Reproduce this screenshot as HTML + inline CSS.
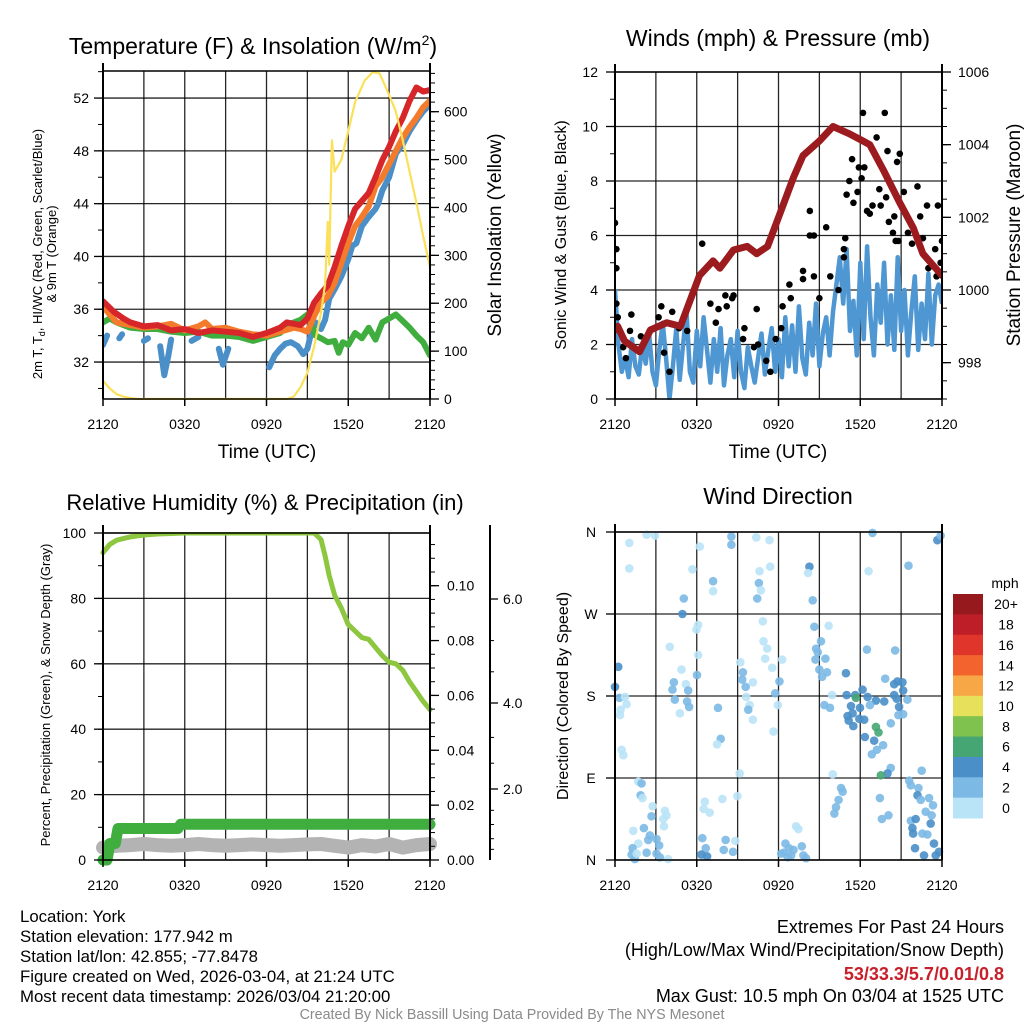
<!DOCTYPE html>
<html><head><meta charset="utf-8"><style>
html,body{margin:0;padding:0;background:#fff;}
svg{display:block;font-family:"Liberation Sans",Arial,sans-serif;}
</style></head><body>
<svg id="chart" width="1024" height="1024" viewBox="0 0 1024 1024" xmlns="http://www.w3.org/2000/svg">
<rect x="0" y="0" width="1024" height="1024" fill="#fff"/>
</svg>
<script>
// ---------- DATA ----------
const xTickLabels = ["2120","0320","0920","1520","2120"];
// Panel 1: temperature (F) & insolation
const redT = [0,0.3,0.8,1.5,2,3,4,5,6,7,8,9,10,11,12,12.5,13,13.5,14,14.5,15,15.5,16,16.5,17,17.5,18,18.5,19,19.5,20,20.5,21,21.5,22,22.5,23,23.5,24];
const redV = [36.6,36.3,35.8,35.3,35.0,34.7,34.8,34.4,34.5,34.2,34.4,34.3,34.2,33.9,34.2,34.4,34.6,35.0,34.9,34.8,35.3,36.5,37.2,37.8,39.2,40.8,42.3,43.6,44.2,44.8,46.0,47.3,48.3,49.5,50.5,51.8,52.8,52.5,52.6];
const orangeT = [0,0.5,1,2,3,4,5,6,7,7.5,8,9,10,11,12,13,14,14.5,15,15.5,16,16.5,17,17.5,18,18.5,19,19.5,20,20.5,21,21.5,22,22.5,23,23.5,24];
const orangeV = [36.2,35.6,35.0,34.8,34.6,34.7,34.9,34.4,34.7,35.0,34.5,34.6,34.3,34.1,34.0,34.3,34.6,34.5,34.3,35.5,36.5,37.0,38.0,39.5,41.0,42.3,43.0,43.8,45.3,46.0,47.0,48.0,49.0,49.8,50.5,51.3,51.8];
const blueT = [0,0.3,0.5,1.2,1.4,1.6,3.0,3.3,3.5,4.2,4.5,4.8,5.0,5.3,6.5,7,7.5,8.5,8.8,9.2,9.5,10.5,11,12.2,12.6,13,13.4,13.8,14.3,14.7,15,15.3,15.6,16,16.3,16.6,17,17.5,18,18.3,18.6,19,19.5,20,20.2,20.5,21,21.5,22,22.5,23,23.5,24];
const blueV = [33.3,34.0,null,33.8,34.1,null,33.6,33.8,null,33.2,31.0,32.5,33.7,null,33.6,33.9,null,33.0,31.8,33.0,null,33.8,null,31.6,32.5,33.0,33.4,33.5,33.2,32.6,33.0,34.3,35.0,34.5,35.2,36.8,37.5,38.5,39.8,40.8,41.0,42.3,43.0,43.6,44.0,45.0,46.0,47.8,48.5,49.5,50.3,51.0,51.5];
const greenT = [0,0.5,1,1.5,2,3,4,5,6,7,8,9,10,11,12,13,13.5,14,14.5,15,15.3,15.6,16,16.5,17,17.3,17.6,18,18.5,19,19.5,20,20.5,21,21.5,22,22.5,23,23.5,24];
const greenV = [35.0,35.3,35.0,34.8,34.6,34.5,34.5,34.3,34.2,34.3,34.0,34.0,33.9,33.6,33.9,34.2,34.7,35.0,35.2,35.6,34.8,34.0,33.8,33.5,33.6,32.7,33.5,33.3,34.2,33.8,34.6,33.7,35.0,35.3,35.6,35.1,34.6,34.0,33.5,32.5];
const solarT = [0,0.5,1,1.5,2,2.5,13.5,14,14.5,15,15.5,16,16.3,16.5,16.6,16.8,17.0,17.5,18,18.5,19.2,19.8,20.3,21,21.5,22,22.5,23,23.5,24];
const solarV = [38,22,10,5,2,0,0,5,25,55,110,180,240,370,280,540,475,500,560,620,665,683,680,635,600,540,475,410,340,275];
const tempTicks = [32,36,40,44,48,52];
const solarTicks = [0,100,200,300,400,500,600];
// Panel 2: winds & pressure
const sonicV = [4.0,2.0,1.0,1.5,0.8,2.2,1.2,0.9,2.0,1.3,2.4,1.0,0.5,1.8,2.8,1.5,
0.0,1.2,2.6,0.7,2.0,3.2,1.0,0.6,2.5,1.2,3.0,1.8,0.6,2.2,1.0,2.6,
0.5,1.6,2.2,0.8,2.5,1.0,0.4,1.9,1.2,0.6,1.5,2.4,0.9,1.8,2.6,1.0,
2.2,0.8,3.0,1.2,2.7,1.0,3.4,1.5,0.9,2.8,1.6,3.5,1.2,2.4,3.0,1.6,
3.2,4.2,5.2,3.5,5.5,2.5,3.6,1.6,5.0,2.2,5.6,3.0,1.6,4.2,2.8,5.0,
2.0,3.8,1.8,5.2,2.5,4.0,1.6,3.2,4.5,1.8,3.5,2.2,4.6,2.0,3.8,4.2,3.5];
const sonicStepHours = 0.25;
const gustT = [0,0.1,0.1,0.1,0.2,0.6,0.8,1.1,1.2,1.9,3.2,3.4,4.2,4.0,3.6,4.7,5.3,6.4,7.0,7.6,8.2,8.6,8.7,8.1,7.4,9.5,9.4,10.4,10.2,11.1,11.4,10.5,11.8,12.2,12.3,12.8,12.9,13.8,13.8,14.3,14.3,14.6,14.6,15.0,15.5,15.8,16.4,16.8,16.8,16.9,17.0,17.2,17.4,17.5,17.8,17.9,18.1,18.2,18.3,18.5,18.7,18.9,19.2,19.4,19.5,19.8,19.9,20.0,20.1,20.4,20.5,20.6,20.7,20.8,20.9,21.2,21.5,21.8,22.2,22.4,22.6,22.9,23.0,23.5,23.7,23.6,24,23.9];
const gustV = [6.46,5.5,4.8,3.5,3.0,1.9,1.5,2.5,3.1,2.3,3.0,3.4,3.2,1.0,1.7,2.6,2.5,5.7,3.5,3.3,3.4,3.7,3.8,3.8,2.8,2.6,2.2,3.3,1.9,1.4,1.0,2.0,2.2,2.6,3.4,4.2,3.7,4.7,4.4,6.0,6.9,6.0,4.5,3.7,6.3,4.5,4.0,5.5,5.2,5.9,7.5,8.0,8.8,7.2,7.6,8.5,8.1,10.5,8.5,6.9,6.8,7.1,9.6,7.7,7.1,10.5,7.4,9.1,6.5,6.1,6.7,5.8,8.7,5.8,9.0,7.6,6.1,5.7,7.8,6.7,5.9,7.1,4.8,5.5,7.1,4.5,5.8,5.0];
const presT = [0,0.2,0.7,1.8,2.6,3.8,4.8,5.3,6.2,7.2,7.7,8.7,9.7,10.4,11.2,12.1,13.1,13.8,15.0,16.0,17.2,18.2,18.7,19.7,20.9,21.9,22.6,24.0];
const presV = [998.9,999.0,998.6,998.3,998.9,999.1,999.0,999.5,1000.4,1000.8,1000.6,1001.1,1001.2,1001.0,1001.2,1002.1,1003.1,1003.7,1004.1,1004.5,1004.3,1004.1,1004.0,1003.3,1002.4,1001.7,1001.0,1000.4];
const windTicks = [0,2,4,6,8,10,12];
const presTicks = [998,1000,1002,1004,1006];
// Panel 3: RH, precip, snow depth
const rhT = [0,0.5,1,2,3,4,6,13,15.5,16,16.3,16.6,17,17.5,18,18.5,19,19.5,20,20.5,21,21.5,22,22.5,23,23.5,24];
const rhV = [94,96.5,97.8,98.8,99.4,99.7,100,100,100,98,93,87,81,77,72,70,68,67.5,65,62.5,60.5,60,58,54.5,51.5,48.5,46];
const precipT = [0,0.3,0.5,0.9,1.1,5.5,5.7,24];
const precipV = [0,0,0.006,0.006,0.0115,0.0115,0.013,0.013];
const snowT = [0,1,2,3,4,5,6,7,8,9,10,11,12,13,14,15,16,17,18,19,20,21,22,23,24];
const snowV = [0.35,0.4,0.42,0.45,0.42,0.4,0.42,0.45,0.42,0.4,0.42,0.44,0.42,0.4,0.42,0.44,0.45,0.4,0.35,0.42,0.38,0.45,0.35,0.42,0.45];
const rhTicks = [0,20,40,60,80,100];
const precipTicks = ["0.00","0.02","0.04","0.06","0.08","0.10"];
const snowTicks = ["2.0","4.0","6.0"];
// Panel 4: wind direction
const dirT = [1.05,2.32,2.93,1.05,5.68,6.22,8.54,8.54,10.37,11.34,7.2,7.2,5.05,4.95,6.1,5.98,4.02,6.1,4.88,5.2,4.32,4.22,5.37,4.39,5.29,5.44,4.76,6.02,0.24,0,0.32,0.73,0.85,0.41,0.37,0.49,0.61,7.56,7.76,7.49,9.2,9.39,9.34,9.59,9.63,9.88,10.12,9.78,10.12,9.15,10.61,11.39,10.56,10.71,10.44,10.85,10.9,11.17,11.02,11.54,12.27,12.07,11.76,11.95,11.63,14.27,14.17,14.51,14.63,15.68,15.12,14.76,14.88,14.71,15.44,15.0,15.56,15.2,16.95,15.93,17.0,17.63,18.17,18.54,17.68,19.15,18.71,19.76,19.83,20.56,18.49,20.49,20.73,21.1,21.15,20.49,20.68,21.46,20.85,21.15,20.8,17.32,17.98,17.07,17.44,17.15,17.49,17.93,18.29,19.15,19.34,18.34,19.02,19.68,19.22,18.85,20.24,20.0,19.51,22.51,21.54,18.9,23.66,23.9,18.61,20.24,15.78,15.37,15.98,16.59,16.71,16.41,16.22,16.1,19.44,20.07,19.59,21.59,21.71,22.27,22.2,22.44,23.05,23.34,22.8,23.24,21.71,22.07,23.17,21.83,21.88,22.56,22.93,23.41,23.78,22.02,22.68,23.54,1.71,1.95,1.88,2.02,2.76,2.68,3.66,3.54,3.78,3.59,2.12,1.34,2.56,2.44,3.05,1.71,3.24,2.32,1.29,1.22,1.46,1.59,3.05,3.29,3.9,6.59,6.51,6.95,6.41,6.66,6.34,6.76,8.12,7.98,8.83,8.66,7.88,8.98,13.29,13.46,12.51,12.39,12.76,12.93,13.1,13.71,13.83,14.02,12.2,12.68];
const dirV = [348,357,356,320,319,344,355,346,354,351,306,295,287,270,258,253,234,225,209,193,195,187,186,176,174,168,161,203,212,190,178,179,171,165,159,121,115,167,133,127,217,206,198,190,179,170,195,165,154,95,317,322,304,296,287,262,240,232,221,211,220,196,183,170,141,322,315,285,256,257,240,232,228,220,221,209,206,201,205,181,181,181,187,179,178,175,170,174,199,230,231,193,196,195,186,181,177,176,168,160,159,169,167,158,161,153,147,155,154,146,140,135,131,126,121,116,101,95,93,98,323,359,351,356,317,150,167,170,94,79,75,66,58,51,68,49,45,87,82,79,71,66,68,60,53,49,43,45,40,35,29,29,28,18,9,13,5,5,86,84,71,68,59,48,54,45,49,37,35,32,27,22,23,18,16,8,13,6,1,7,7,3,1,64,56,52,24,13,6,4,22,11,21,9,67,70,37,34,18,8,13,5,11,15,5,2,7,3];
const dirSpeed = [1,1,1,1,1,1,3,3,1,1,3,1,3,5,1,1,1,1,1,1,3,3,3,3,3,3,1,3,5,5,3,1,1,1,1,1,1,3,3,1,1,3,3,3,1,1,1,3,1,1,1,1,3,1,3,1,1,1,1,1,1,3,3,1,1,5,1,3,3,1,3,3,3,3,3,3,3,3,5,1,5,5,5,5,7,5,3,5,3,3,3,5,5,5,5,5,5,3,5,3,3,5,5,5,5,5,5,5,5,7,7,5,5,3,3,3,3,5,7,3,3,3,5,3,1,3,3,3,1,3,3,3,3,3,3,3,3,3,3,3,5,3,3,3,3,3,3,5,5,5,5,3,3,5,5,5,5,5,1,3,3,1,1,3,1,1,1,1,3,1,3,3,3,1,3,3,3,3,3,1,3,3,1,1,1,1,3,3,5,5,3,3,1,3,1,1,1,1,3,3,3,3,3,3,3,3,3,3];
const dirTickLabels = ["N","E","S","W","N"];
const speedBins = ["0","2","4","6","8","10","12","14","16","18","20+"];
const speedColors = ["#b9e3f7","#7cb9e5","#4a8fc8","#46a673","#7fc24e","#e7e05b","#f8a747","#f2632d","#e0352a","#bd1e28","#961a1d"];

// ---------- HELPERS ----------
const NS = "http://www.w3.org/2000/svg";
const svg = document.getElementById("chart");
function mk(tag, attrs, parent){
  const e = document.createElementNS(NS, tag);
  for (const k in attrs) e.setAttribute(k, attrs[k]);
  (parent||svg).appendChild(e);
  return e;
}
function txt(s, x, y, size, anchor, parent, extra){
  const e = mk("text", Object.assign({x:x, y:y, "font-size":size, "text-anchor":anchor||"middle", fill:"#000"}, extra||{}), parent);
  e.textContent = s;
  return e;
}
function pathFrom(ts, vs, xf, yf){
  let d = "", pen = false;
  for (let i=0;i<ts.length;i++){
    if (vs[i]===null){ pen=false; continue; }
    d += (pen?"L":"M") + xf(ts[i]).toFixed(1) + "," + yf(vs[i]).toFixed(1);
    pen = true;
  }
  return d;
}
function grp(name){
  const g = mk("g", {});
  
  
  return g;
}

// ---------- PANEL GEOMETRY ----------
function timeX(x0, x1){ return t => x0 + t/24*(x1-x0); }
function frame(g, x0, y0, x1, y1, vgrid, hgridYs){
  const gg = mk("g", {}, g);
  
  
  for (let i=1;i<vgrid;i++){
    const x = x0 + i*(x1-x0)/vgrid;
    mk("line", {x1:x, y1:y0, x2:x, y2:y1, stroke:"#000", "stroke-width":1.3, "stroke-opacity":0.85}, gg);
  }
  hgridYs.forEach(y => mk("line", {x1:x0, y1:y, x2:x1, y2:y, stroke:"#000", "stroke-width":1.3, "stroke-opacity":0.85}, gg));
}
function borders(g, x0, y0, x1, y1){
  mk("line", {x1:x0, y1:y0-8, x2:x0, y2:y1, stroke:"#000", "stroke-width":2}, g);
  mk("line", {x1:x1, y1:y0-8, x2:x1, y2:y1, stroke:"#000", "stroke-width":2}, g);
  mk("line", {x1:x0, y1:y0, x2:x1, y2:y0, stroke:"#000", "stroke-width":1.5}, g);
  mk("line", {x1:x0, y1:y1, x2:x1, y2:y1, stroke:"#000", "stroke-width":1.5}, g);
}
function xAxis(g, x0, x1, y1){
  const ax = mk("g", {}, g);
  
  
  xTickLabels.forEach((l,i) => {
    const x = x0 + i*(x1-x0)/4;
    mk("line", {x1:x, y1:y1, x2:x, y2:y1+7, stroke:"#000", "stroke-width":1.5}, ax);
    const t = txt(l, x, y1+30, 14, "middle", ax);
    
    
  });
}
function yTicks(g, ax, vals, yf, side, majorLen, minorVals, labelFmt, labelX, anchor){
  vals.forEach(v => {
    const y = yf(v);
    mk("line", {x1:ax, y1:y, x2:ax+side*majorLen, y2:y, stroke:"#000", "stroke-width":1.3}, g);
    const t = txt(labelFmt(v), labelX, y+5, 14, anchor, g);
    
    
  });
  minorVals.forEach(v => {
    const y = yf(v);
    mk("line", {x1:ax, y1:y, x2:ax+side*5, y2:y, stroke:"#000", "stroke-width":1}, g);
  });
}
function range(a,b,s){ const r=[]; for(let v=a; v<=b+1e-9; v+=s) r.push(+v.toFixed(4)); return r; }
function clip(id, x0,y0,x1,y1){
  const defs = mk("defs", {});
  const cp = mk("clipPath", {id:id}, defs);
  mk("rect", {x:x0, y:y0-1, width:x1-x0, height:y1-y0+2}, cp);
}

// ================= PANEL 1 =================
(function(){
  const x0=103,x1=430,y0=71,y1=399;
  const g = grp("temperature-panel");
  const X = timeX(x0,x1);
  const tY = v => y1 - (v-29.2)/(54.05-29.2)*(y1-y0);
  const iY = v => y1 - v/685*(y1-y0);
  clip("c1",x0,y0,x1,y1);
  frame(g,x0,y0,x1,y1,8,tempTicks.map(tY));
  const s = mk("g",{"clip-path":"url(#c1)"},g);
  const lines = [[blueT,blueV,"#4a8fc8","dewpoint-line"],[greenT,greenV,"#3fae3f","heat-index-line"],[orangeT,orangeV,"#f47b2c","temp-9m-line"],[redT,redV,"#d7262a","temp-2m-line"]];
  lines.forEach(L => {
    const p = mk("path",{d:pathFrom(L[0],L[1],X,tY),fill:"none",stroke:L[2],"stroke-width":6,"stroke-linejoin":"round","stroke-linecap":"round"},s);
    
    
  });
  const sp = mk("path",{d:pathFrom(solarT,solarV,X,iY),fill:"none",stroke:"#fbe05a","stroke-width":2.2,"stroke-linejoin":"round"},s);
  
  
  borders(g,x0,y0,x1,y1);
  yTicks(g,x0,tempTicks,tY,-1,9,range(30,54,2),v=>String(v),89,"end");
  yTicks(g,x1,solarTicks,iY,1,9,range(0,680,20),v=>String(v),444,"start");
  xAxis(g,x0,x1,y1);
  const t = txt("Temperature (F) & Insolation (W/m", 253, 54, 23, "middle", g);
  const sup = mk("tspan",{dy:-9,"font-size":14},t); sup.textContent="2";
  const cl = mk("tspan",{dy:9},t); cl.textContent=")";
  
  
  const xt = txt("Time (UTC)", 267, 458, 19, "middle", g);
  
  
  const rt = txt("Solar Insolation (Yellow)", 0, 0, 19, "middle", g, {transform:"translate(501,235) rotate(-90)"});
  
  
  const lt = txt("2m T, T", 0, 0, 13, "middle", g, {transform:"translate(42,254) rotate(-90)"});
  const sb = mk("tspan",{dy:3,"font-size":9},lt); sb.textContent="d";
  const rest = mk("tspan",{dy:-3},lt); rest.textContent=", HI/WC (Red, Green, Scarlet/Blue)";
  
  
  const lt2 = txt("& 9m T (Orange)", 0, 0, 13, "middle", g, {transform:"translate(56,254) rotate(-90)"});
  
  
})();

// ================= PANEL 2 =================
(function(){
  const x0=615,x1=942,y0=72,y1=399;
  const g = grp("winds-pressure-panel");
  const X = timeX(x0,x1);
  const wY = v => y1 - v/12*(y1-y0);
  const pY = v => y1 - (v-997)/9*(y1-y0);
  clip("c2",x0,y0,x1,y1);
  frame(g,x0,y0,x1,y1,8,windTicks.map(wY));
  const s = mk("g",{"clip-path":"url(#c2)"},g);
  const sonicT = sonicV.map((v,i)=>i*sonicStepHours);
  const sp = mk("path",{d:pathFrom(sonicT,sonicV,X,wY),fill:"none",stroke:"#4f97d2","stroke-width":4.5,"stroke-linejoin":"round"},s);
  
  
  const gg = mk("g",{},s);
  
  
  gustT.forEach((t,i)=>{
    const c = mk("circle",{cx:X(t),cy:wY(gustV[i]),r:3.3,fill:"#000"},gg);
    
    
  });
  const pp = mk("path",{d:pathFrom(presT,presV,X,pY),fill:"none",stroke:"#9b1b1e","stroke-width":7,"stroke-linejoin":"round","stroke-linecap":"round"},s);
  
  
  borders(g,x0,y0,x1,y1);
  yTicks(g,x0,windTicks,wY,-1,9,range(0,12,1),v=>String(v),598,"end");
  yTicks(g,x1,presTicks,pY,1,9,range(997,1006,0.5),v=>String(v),958,"start");
  xAxis(g,x0,x1,y1);
  const t = txt("Winds (mph) & Pressure (mb)", 778, 46, 23, "middle", g);
  
  
  const xt = txt("Time (UTC)", 778, 458, 19, "middle", g);
  
  
  const lt = txt("Sonic Wind & Gust (Blue, Black)", 0, 0, 16, "middle", g, {transform:"translate(566,235) rotate(-90)"});
  
  
  const rt = txt("Station Pressure (Maroon)", 0, 0, 19, "middle", g, {transform:"translate(1020,235) rotate(-90)"});
  
  
})();

// ================= PANEL 3 =================
(function(){
  const x0=103,x1=430,y0=533,y1=860;
  const g = grp("humidity-precip-panel");
  const X = timeX(x0,x1);
  const rY = v => y1 - v/100*(y1-y0);
  const pcY = v => y1 - v/0.1*274.3;
  const snowVals=[0,2,4,6], snowPos=[860,789,703,599];
  const sY = v => { for(let i=0;i<3;i++){ if(v<=snowVals[i+1]) return snowPos[i]+(v-snowVals[i])/(snowVals[i+1]-snowVals[i])*(snowPos[i+1]-snowPos[i]); } return snowPos[3]; };
  clip("c3",x0-8,y0,x1+8,y1+8);
  frame(g,x0,y0,x1,y1,8,rhTicks.map(rY));
  const s = mk("g",{"clip-path":"url(#c3)"},g);
  const sn = mk("path",{d:pathFrom(snowT,snowV,X,sY),fill:"none",stroke:"#b3b3b3","stroke-width":14,"stroke-linejoin":"round","stroke-linecap":"round"},s);
  
  
  const pc = mk("path",{d:pathFrom(precipT,precipV,X,pcY),fill:"none",stroke:"#3fae3f","stroke-width":11,"stroke-linejoin":"round","stroke-linecap":"round"},s);
  
  
  const rh = mk("path",{d:pathFrom(rhT,rhV,X,rY),fill:"none",stroke:"#8dc63f","stroke-width":5,"stroke-linejoin":"round","stroke-linecap":"round"},s);
  
  
  borders(g,x0,y0,x1,y1);
  yTicks(g,x0,rhTicks,rY,-1,9,range(0,100,10),v=>String(v),86,"end");
  yTicks(g,x1,precipTicks.map(Number),pcY,1,9,range(0,0.115,0.005),v=>v.toFixed(2),447,"start");
  mk("line",{x1:490,y1:y0-8,x2:490,y2:y1,stroke:"#000","stroke-width":2},g);
  snowTicks.forEach(l=>{
    const y = sY(Number(l));
    mk("line",{x1:490,y1:y,x2:498,y2:y,stroke:"#000","stroke-width":1.3},g);
    const t = txt(l, 503, y+5, 14, "start", g);
    
    
  });
  [0.3,0.6,1.0,1.4,2.6,3.2,4.6,5.2,6.6,7.2].forEach(v=>{ const y=sY(v); mk("line",{x1:490,y1:y,x2:494,y2:y,stroke:"#000","stroke-width":1},g); });
  xAxis(g,x0,x1,y1);
  const t = txt("Relative Humidity (%) & Precipitation (in)", 265, 510, 22, "middle", g);
  
  
  const lt = txt("Percent, Precipitation (Green), & Snow Depth (Gray)", 0, 0, 13, "middle", g, {transform:"translate(50,695) rotate(-90)"});
  
  
})();

// ================= PANEL 4 =================
(function(){
  const x0=615,x1=942,y0=532,y1=860;
  const g = grp("wind-direction-panel");
  const X = timeX(x0,x1);
  const dY = d => y1 - d/360*(y1-y0);
  frame(g,x0,y0,x1,y1,8,[0,90,180,270,360].map(dY));
  const pts = mk("g",{},g);
  
  
  dirT.forEach((t,i)=>{
    const bin = Math.min(10, Math.floor(dirSpeed[i]/2));
    const c = mk("circle",{cx:X(t),cy:dY(dirV[i]),r:4.3,fill:speedColors[bin],"fill-opacity":0.9},pts);
    
    
  });
  borders(g,x0,y0,x1,y1);
  dirTickLabels.forEach((l,i)=>{
    const y = dY(i*90);
    mk("line",{x1:x0,y1:y,x2:x0-9,y2:y,stroke:"#000","stroke-width":1.3},g);
    const t = txt(l, 591, y+5, 14, "middle", g);
    
    
  });
  xAxis(g,x0,x1,y1);
  const t = txt("Wind Direction", 778, 504, 23, "middle", g);
  
  
  const lt = txt("Direction (Colored By Speed)", 0, 0, 16, "middle", g, {transform:"translate(568,696) rotate(-90)"});
  
  
  // colorbar
  const cb = mk("g",{},g);
  
  
  const cTop=594, cH=224/11;
  const u = txt("mph", 1005, 588, 14, "middle", cb);
  
  
  speedBins.forEach((l,i)=>{
    const k = speedBins.length-1-i;
    const y = cTop + i*cH;
    const r = mk("rect",{x:953,y:y,width:30,height:cH+0.5,fill:speedColors[k]},cb);
    
    
    const tt = txt(speedBins[k], 1006, y+cH/2+5, 14, "middle", cb);
    
    
  });
})();

// ================= FOOTER =================
(function(){
  const g = grp("footer");
  const left = ["Location: York","Station elevation: 177.942 m","Station lat/lon: 42.855; -77.8478","Figure created on Wed, 2026-03-04, at 21:24 UTC","Most recent data timestamp: 2026/03/04 21:20:00"];
  left.forEach((s,i)=>{
    const t = txt(s, 20, 922+i*20, 16.8, "start", g);
    
    
  });
  const r1 = txt("Extremes For Past 24 Hours", 1004, 933, 18, "end", g);
  
  
  const r2 = txt("(High/Low/Max Wind/Precipitation/Snow Depth)", 1004, 956, 18, "end", g);
  
  
  const r3 = txt("53/33.3/5.7/0.01/0.8", 1004, 980, 18, "end", g, {fill:"#c8202a","font-weight":"bold"});
  
  
  const r4 = txt("Max Gust: 10.5 mph On 03/04 at 1525 UTC", 1004, 1002, 18, "end", g);
  
  
  const c = txt("Created By Nick Bassill Using Data Provided By The NYS Mesonet", 512, 1019, 14.3, "middle", g, {fill:"#8a8a8a"});
  
  
})();
</script>
</body></html>
